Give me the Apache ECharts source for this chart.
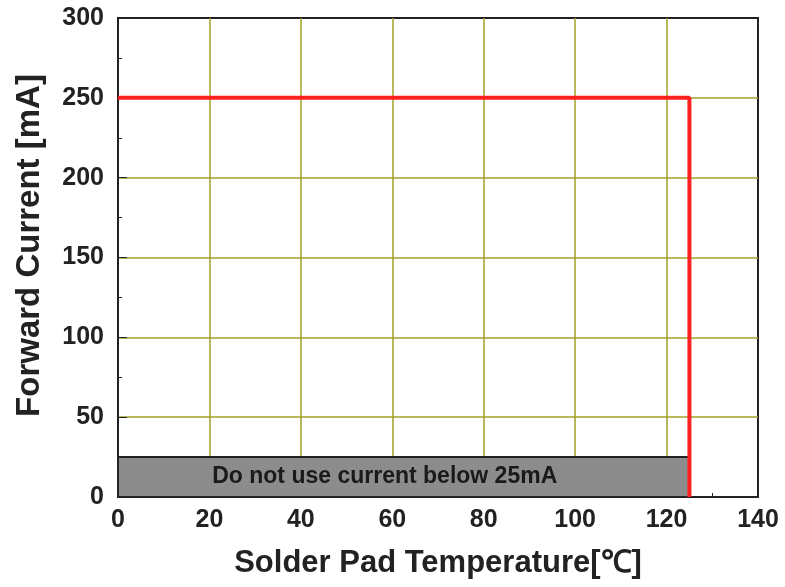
<!DOCTYPE html>
<html>
<head>
<meta charset="utf-8">
<script src="https://cdn.jsdelivr.net/npm/echarts@6/dist/echarts.min.js"></script>
<style>
  html, body { margin: 0; padding: 0; background: #fff; }
  #chart { width: 785px; height: 587px; }
</style>
</head>
<body>
<div id="chart"></div>
<script>
// derating curve
const tempX = [0, 125, 125];
const currentY = [250, 250, 0];
// forbidden zone
const zoneX = [0, 125];
const zoneY = [0, 25];
const zoneLabel = 'Do not use current below 25mA';

const fontFamily = '"Liberation Sans", Arial, sans-serif';
const gridColor = '#a0a02a';
const axisColor = '#222222';

const chart = echarts.init(document.getElementById('chart'));

chart.setOption({
    animation: false,
    grid: {
        show: true,
        left: 118,
        right: 27,
        top: 18,
        bottom: 90,
        outerBoundsMode: 'none',
        containLabel: false,
        borderColor: axisColor,
        borderWidth: 2,
        backgroundColor: '#fff'
    },
    xAxis: {
        type: 'value',
        min: 0,
        max: 140,
        interval: 20,
        name: 'Solder Pad Temperature[℃]',
        nameLocation: 'center',
        nameGap: 51,
        nameTextStyle: {
            color: axisColor,
            fontSize: 31,
            fontWeight: 'bold',
            fontFamily: fontFamily
        },
        axisLine: { show: true, lineStyle: { color: axisColor, width: 2 } },
        axisTick: { show: true, inside: true, length: 9, lineStyle: { color: axisColor } },
        minorTick: { show: true, splitNumber: 2, length: 4, lineStyle: { color: axisColor } },
        axisLabel: {
            color: axisColor,
            fontSize: 25,
            fontWeight: 'bold',
            fontFamily: fontFamily,
            margin: 11
        },
        splitLine: {
            show: true,
            showMinLine: false,
            showMaxLine: false,
            lineStyle: { color: gridColor, width: 1.5 }
        }
    },
    yAxis: {
        type: 'value',
        min: 0,
        max: 300,
        interval: 50,
        name: 'Forward Current [mA]',
        nameLocation: 'center',
        nameGap: 72,
        nameTextStyle: {
            color: axisColor,
            fontSize: 33,
            fontWeight: 'bold',
            fontFamily: fontFamily,
            padding: [0, 0, 0, 24]
        },
        axisLine: { show: true, lineStyle: { color: axisColor, width: 2 } },
        axisTick: { show: true, inside: true, length: 9, lineStyle: { color: axisColor } },
        minorTick: { show: true, splitNumber: 2, length: 4, lineStyle: { color: axisColor } },
        axisLabel: {
            color: axisColor,
            fontSize: 25,
            fontWeight: 'bold',
            fontFamily: fontFamily,
            margin: 14
        },
        splitLine: {
            show: true,
            showMinLine: false,
            showMaxLine: false,
            lineStyle: { color: gridColor, width: 1.5 }
        }
    },
    series: [
        {
            type: 'line',
            data: [],
            z: 2,
            markArea: {
                silent: true,
                itemStyle: {
                    color: '#8c8c8c',
                    borderColor: axisColor,
                    borderWidth: 2
                },
                label: {
                    show: true,
                    position: 'inside',
                    offset: [-19, 0],
                    color: '#1a1a1a',
                    fontSize: 23,
                    fontWeight: 'bold',
                    fontFamily: fontFamily
                },
                data: [[
                    { name: zoneLabel, coord: [zoneX[0], zoneY[0]] },
                    { coord: [zoneX[1], zoneY[1]] }
                ]]
            }
        },
        {
            type: 'line',
            z: 5,
            symbol: 'none',
            lineStyle: { color: '#ff2020', width: 4 },
            data: tempX.map((x, i) => [x, currentY[i]])
        }
    ]
});
</script>
</body>
</html>
